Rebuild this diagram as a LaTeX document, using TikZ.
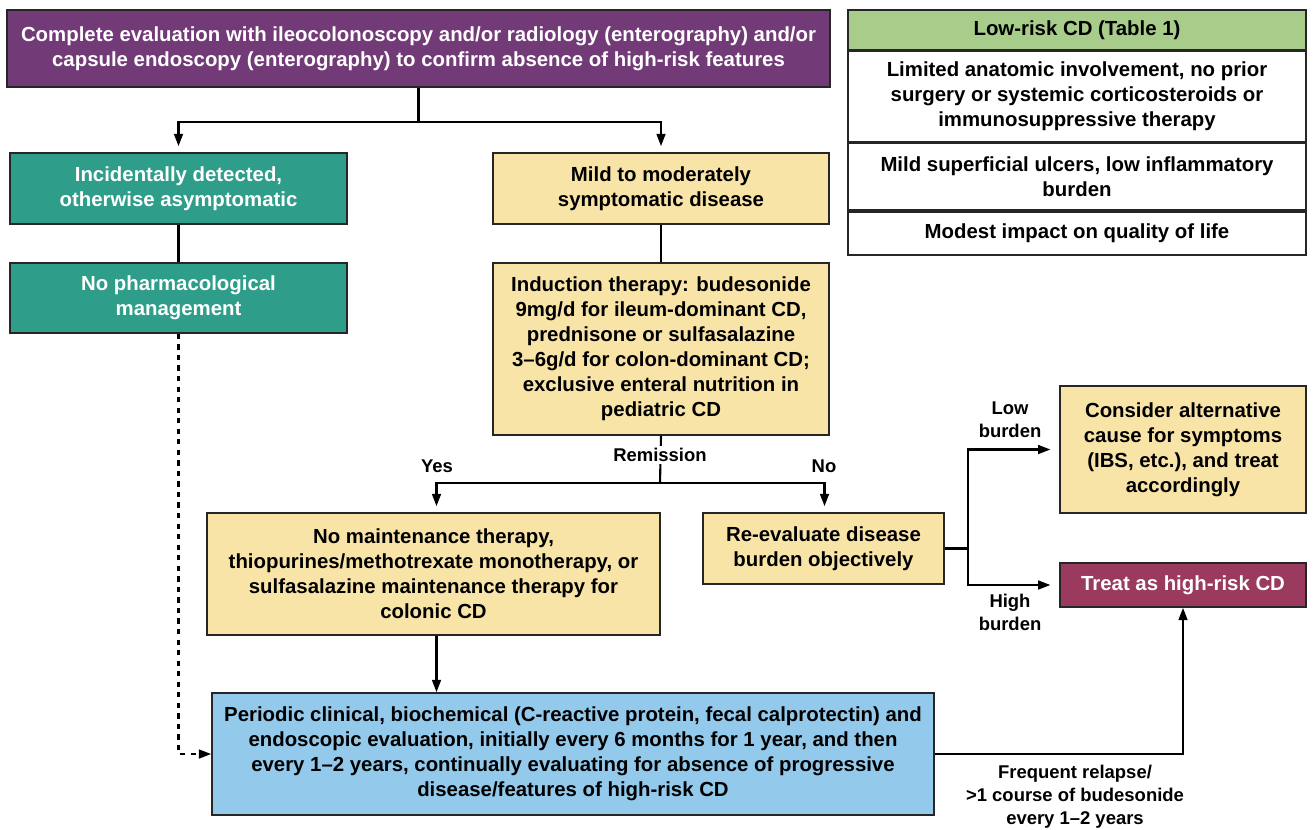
\documentclass[tikz,border=0pt]{standalone}
\usepackage{fontspec}
\setmainfont{Liberation Sans}
\usetikzlibrary{arrows.meta,calc}

\definecolor{evalpurple}{HTML}{723B78}
\definecolor{asymteal}{HTML}{2E9D89}
\definecolor{mildyellow}{HTML}{F9E4A8}
\definecolor{highmaroon}{HTML}{9A3A5F}
\definecolor{followblue}{HTML}{93C9EB}
\definecolor{tabgreen}{HTML}{A8CD8A}

\begin{document}
\begin{tikzpicture}[x=0.02cm, y=-0.02cm, >={Triangle[length=7pt,width=5pt]},
  dims/.style 2 args={minimum width=#1*0.02cm, minimum height=#2*0.02cm},
  box/.style={draw=black!85, line width=0.9pt, align=center, inner sep=0pt,
    font=\fontsize{11.6}{14.2}\selectfont\bfseries},
  link/.style={line width=1.2pt},
  lbl/.style={align=center, inner sep=1pt, font=\fontsize{10.5}{13}\selectfont\bfseries}]

\useasboundingbox (0,0) rectangle (1314,829);

% Top evaluation box
\node[box, fill=evalpurple, text=white, dims={823}{77}] (eval) at (418.5,48.5)
  {Complete evaluation with ileocolonoscopy and/or radiology (enterography) and/or\\
   capsule endoscopy (enterography) to confirm absence of high-risk features};

% Left branch
\node[box, fill=asymteal, text=white, dims={337}{71}] (incid) at (178.5,188.5)
  {Incidentally detected,\\otherwise asymptomatic};
\node[box, fill=asymteal, text=white, dims={337}{70}] (nopharm) at (178.5,298)
  {No pharmacological\\management};

% Right branch
\node[box, fill=mildyellow, dims={336}{71}] (mild) at (661,188.5)
  {Mild to moderately\\symptomatic disease};
\node[box, fill=mildyellow, dims={336}{172}] (induct) at (661,349)
  {Induction therapy: budesonide\\9mg/d for ileum-dominant CD,\\prednisone or sulfasalazine\\
   3–6g/d for colon-dominant CD;\\exclusive enteral nutrition in\\pediatric CD};

% Remission outcomes
\node[box, fill=mildyellow, dims={453}{122}] (maint) at (433.5,574)
  {No maintenance therapy,\\thiopurines/methotrexate monotherapy, or\\
   sulfasalazine maintenance therapy for\\colonic CD};
\node[box, fill=mildyellow, dims={241}{71}] (reeval) at (823.5,548.5)
  {Re-evaluate disease\\burden objectively};
\node[box, fill=mildyellow, dims={246}{127}] (consider) at (1183,449.5)
  {Consider alternative\\cause for symptoms\\(IBS, etc.), and treat\\accordingly};
\node[box, fill=highmaroon, text=white, dims={246}{44}] (treat) at (1183,585)
  {Treat as high-risk CD};

% Follow-up box
\node[box, fill=followblue, dims={722}{122}] (period) at (573,754)
  {Periodic clinical, biochemical (C-reactive protein, fecal calprotectin) and\\
   endoscopic evaluation, initially every 6 months for 1 year, and then\\
   every 1–2 years, continually evaluating for absence of progressive\\
   disease/features of high-risk CD};

% Low-risk table
\node[box, fill=tabgreen, dims={458}{40}] (tabhead) at (1077,30) {Low-risk CD (Table 1)};
\node[box, fill=white, dims={458}{90}, anchor=north] (tabrowa) at (tabhead.south)
  {Limited anatomic involvement, no prior\\surgery or systemic corticosteroids or\\immunosuppressive therapy};
\node[box, fill=white, dims={458}{67}, anchor=north] (tabrowb) at (tabrowa.south)
  {Mild superficial ulcers, low inflammatory\\burden};
\node[box, fill=white, dims={458}{43}, anchor=north] (tabrowc) at (tabrowb.south)
  {Modest impact on quality of life};

% Split points
\coordinate (splittop) at (418.5,122);
\coordinate (splitrem) at (660,483);
\coordinate (splitbur) at (968,548.5);
\coordinate (maintout) at ($(maint.south)+(3,0)$);

% Connectors
\draw[link] (eval) -- (splittop);
\draw[link, ->] (splittop) -| ($(incid.north)+(0,-6)$);
\draw[link, ->] (splittop) -| ($(mild.north)+(0,-6)$);
\draw[link] (incid) -- (nopharm);
\draw[link] (mild) -- (induct);
\draw[link] (induct.south) -- (splitrem);
\draw[link, ->] (splitrem) -| ($(maint.north)+(3,-6)$);
\draw[link, ->] (splitrem) -| ($(reeval.north)+(1,-6)$);
\draw[link] (reeval.east) -- (splitbur);
\draw[link, ->, shorten >=5pt] (splitbur) |- (consider.west);
\draw[link, ->, shorten >=5pt] (splitbur) |- (treat.west);
\draw[link, ->] (maintout) -- (maintout |- period.north);
\draw[link, ->, dashed] (nopharm.south) |- (period.west);
\draw[link, ->] (period.east) -| (treat.south);

% Labels
\node[lbl, fill=white] (remis) at (660,455) {Remission};
\node[lbl] (yes) at (437,466) {Yes};
\node[lbl] (no) at (824,466) {No};
\node[lbl] (lowbur) at (1010,420) {Low\\burden};
\node[lbl] (highbur) at (1010,612) {High\\burden};
\node[lbl] (relapse) at (1075,797) {Frequent relapse/\\>1 course of budesonide\\every 1–2 years};

\end{tikzpicture}
\end{document}
